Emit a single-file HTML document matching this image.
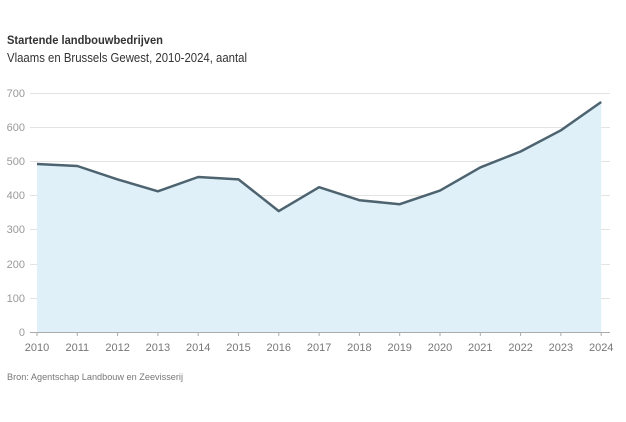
<!DOCTYPE html>
<html><head><meta charset="utf-8"><style>
body{margin:0;background:#fff;width:626px;height:417px;overflow:hidden;font-family:"Liberation Sans",sans-serif}
</style></head><body>
<svg width="626" height="417" xmlns="http://www.w3.org/2000/svg" font-family="Liberation Sans, sans-serif">
<text x="7" y="44" font-size="11.5" font-weight="bold" fill="#333" textLength="156" lengthAdjust="spacingAndGlyphs">Startende landbouwbedrijven</text>
<text x="7" y="62" font-size="12.5" fill="#333" textLength="240" lengthAdjust="spacingAndGlyphs">Vlaams en Brussels Gewest, 2010-2024, aantal</text>
<g stroke="#e3e3e3" stroke-width="1">
<line x1="30" x2="610" y1="93.5" y2="93.5"/><line x1="30" x2="610" y1="127.5" y2="127.5"/>
<line x1="30" x2="610" y1="161.5" y2="161.5"/><line x1="30" x2="610" y1="195.5" y2="195.5"/>
<line x1="30" x2="610" y1="229.5" y2="229.5"/><line x1="30" x2="610" y1="264.5" y2="264.5"/>
<line x1="30" x2="610" y1="298.5" y2="298.5"/>
</g>
<g font-size="11" fill="#999" text-anchor="end">
<text x="25" y="97">700</text><text x="25" y="131">600</text><text x="25" y="165">500</text>
<text x="25" y="199">400</text><text x="25" y="233">300</text><text x="25" y="268">200</text>
<text x="25" y="302">100</text><text x="25" y="336">0</text>
</g>
<polygon fill="#dff0f8" points="37,332 37,164 77.3,166 117.6,179.4 157.9,191.3 198.2,177 238.5,179.4 278.8,211.1 319.1,187.2 359.4,200.2 399.7,204.2 440,190.6 480.3,167.4 520.6,151.5 560.9,130.3 601.2,102 601.2,332"/>
<polyline fill="none" stroke="#4d6470" stroke-width="2.5" stroke-linejoin="round" points="37,164 77.3,166 117.6,179.4 157.9,191.3 198.2,177 238.5,179.4 278.8,211.1 319.1,187.2 359.4,200.2 399.7,204.2 440,190.6 480.3,167.4 520.6,151.5 560.9,130.3 601.2,102"/>
<line x1="30" x2="610" y1="332.5" y2="332.5" stroke="#aaa"/>
<g stroke="#aaa">
<line x1="37" x2="37" y1="332" y2="336"/><line x1="77.3" x2="77.3" y1="332" y2="336"/><line x1="117.6" x2="117.6" y1="332" y2="336"/><line x1="157.9" x2="157.9" y1="332" y2="336"/><line x1="198.2" x2="198.2" y1="332" y2="336"/><line x1="238.5" x2="238.5" y1="332" y2="336"/><line x1="278.8" x2="278.8" y1="332" y2="336"/><line x1="319.1" x2="319.1" y1="332" y2="336"/><line x1="359.4" x2="359.4" y1="332" y2="336"/><line x1="399.7" x2="399.7" y1="332" y2="336"/><line x1="440" x2="440" y1="332" y2="336"/><line x1="480.3" x2="480.3" y1="332" y2="336"/><line x1="520.6" x2="520.6" y1="332" y2="336"/><line x1="560.9" x2="560.9" y1="332" y2="336"/><line x1="601.2" x2="601.2" y1="332" y2="336"/>
</g>
<g font-size="11" fill="#777" text-anchor="middle">
<text x="37" y="351">2010</text><text x="77.3" y="351">2011</text><text x="117.6" y="351">2012</text><text x="157.9" y="351">2013</text><text x="198.2" y="351">2014</text><text x="238.5" y="351">2015</text><text x="278.8" y="351">2016</text><text x="319.1" y="351">2017</text><text x="359.4" y="351">2018</text><text x="399.7" y="351">2019</text><text x="440" y="351">2020</text><text x="480.3" y="351">2021</text><text x="520.6" y="351">2022</text><text x="560.9" y="351">2023</text><text x="601.2" y="351">2024</text>
</g>
<text x="7" y="380" font-size="9.5" fill="#777" textLength="176" lengthAdjust="spacingAndGlyphs">Bron: Agentschap Landbouw en Zeevisserij</text>
</svg>
</body></html>
